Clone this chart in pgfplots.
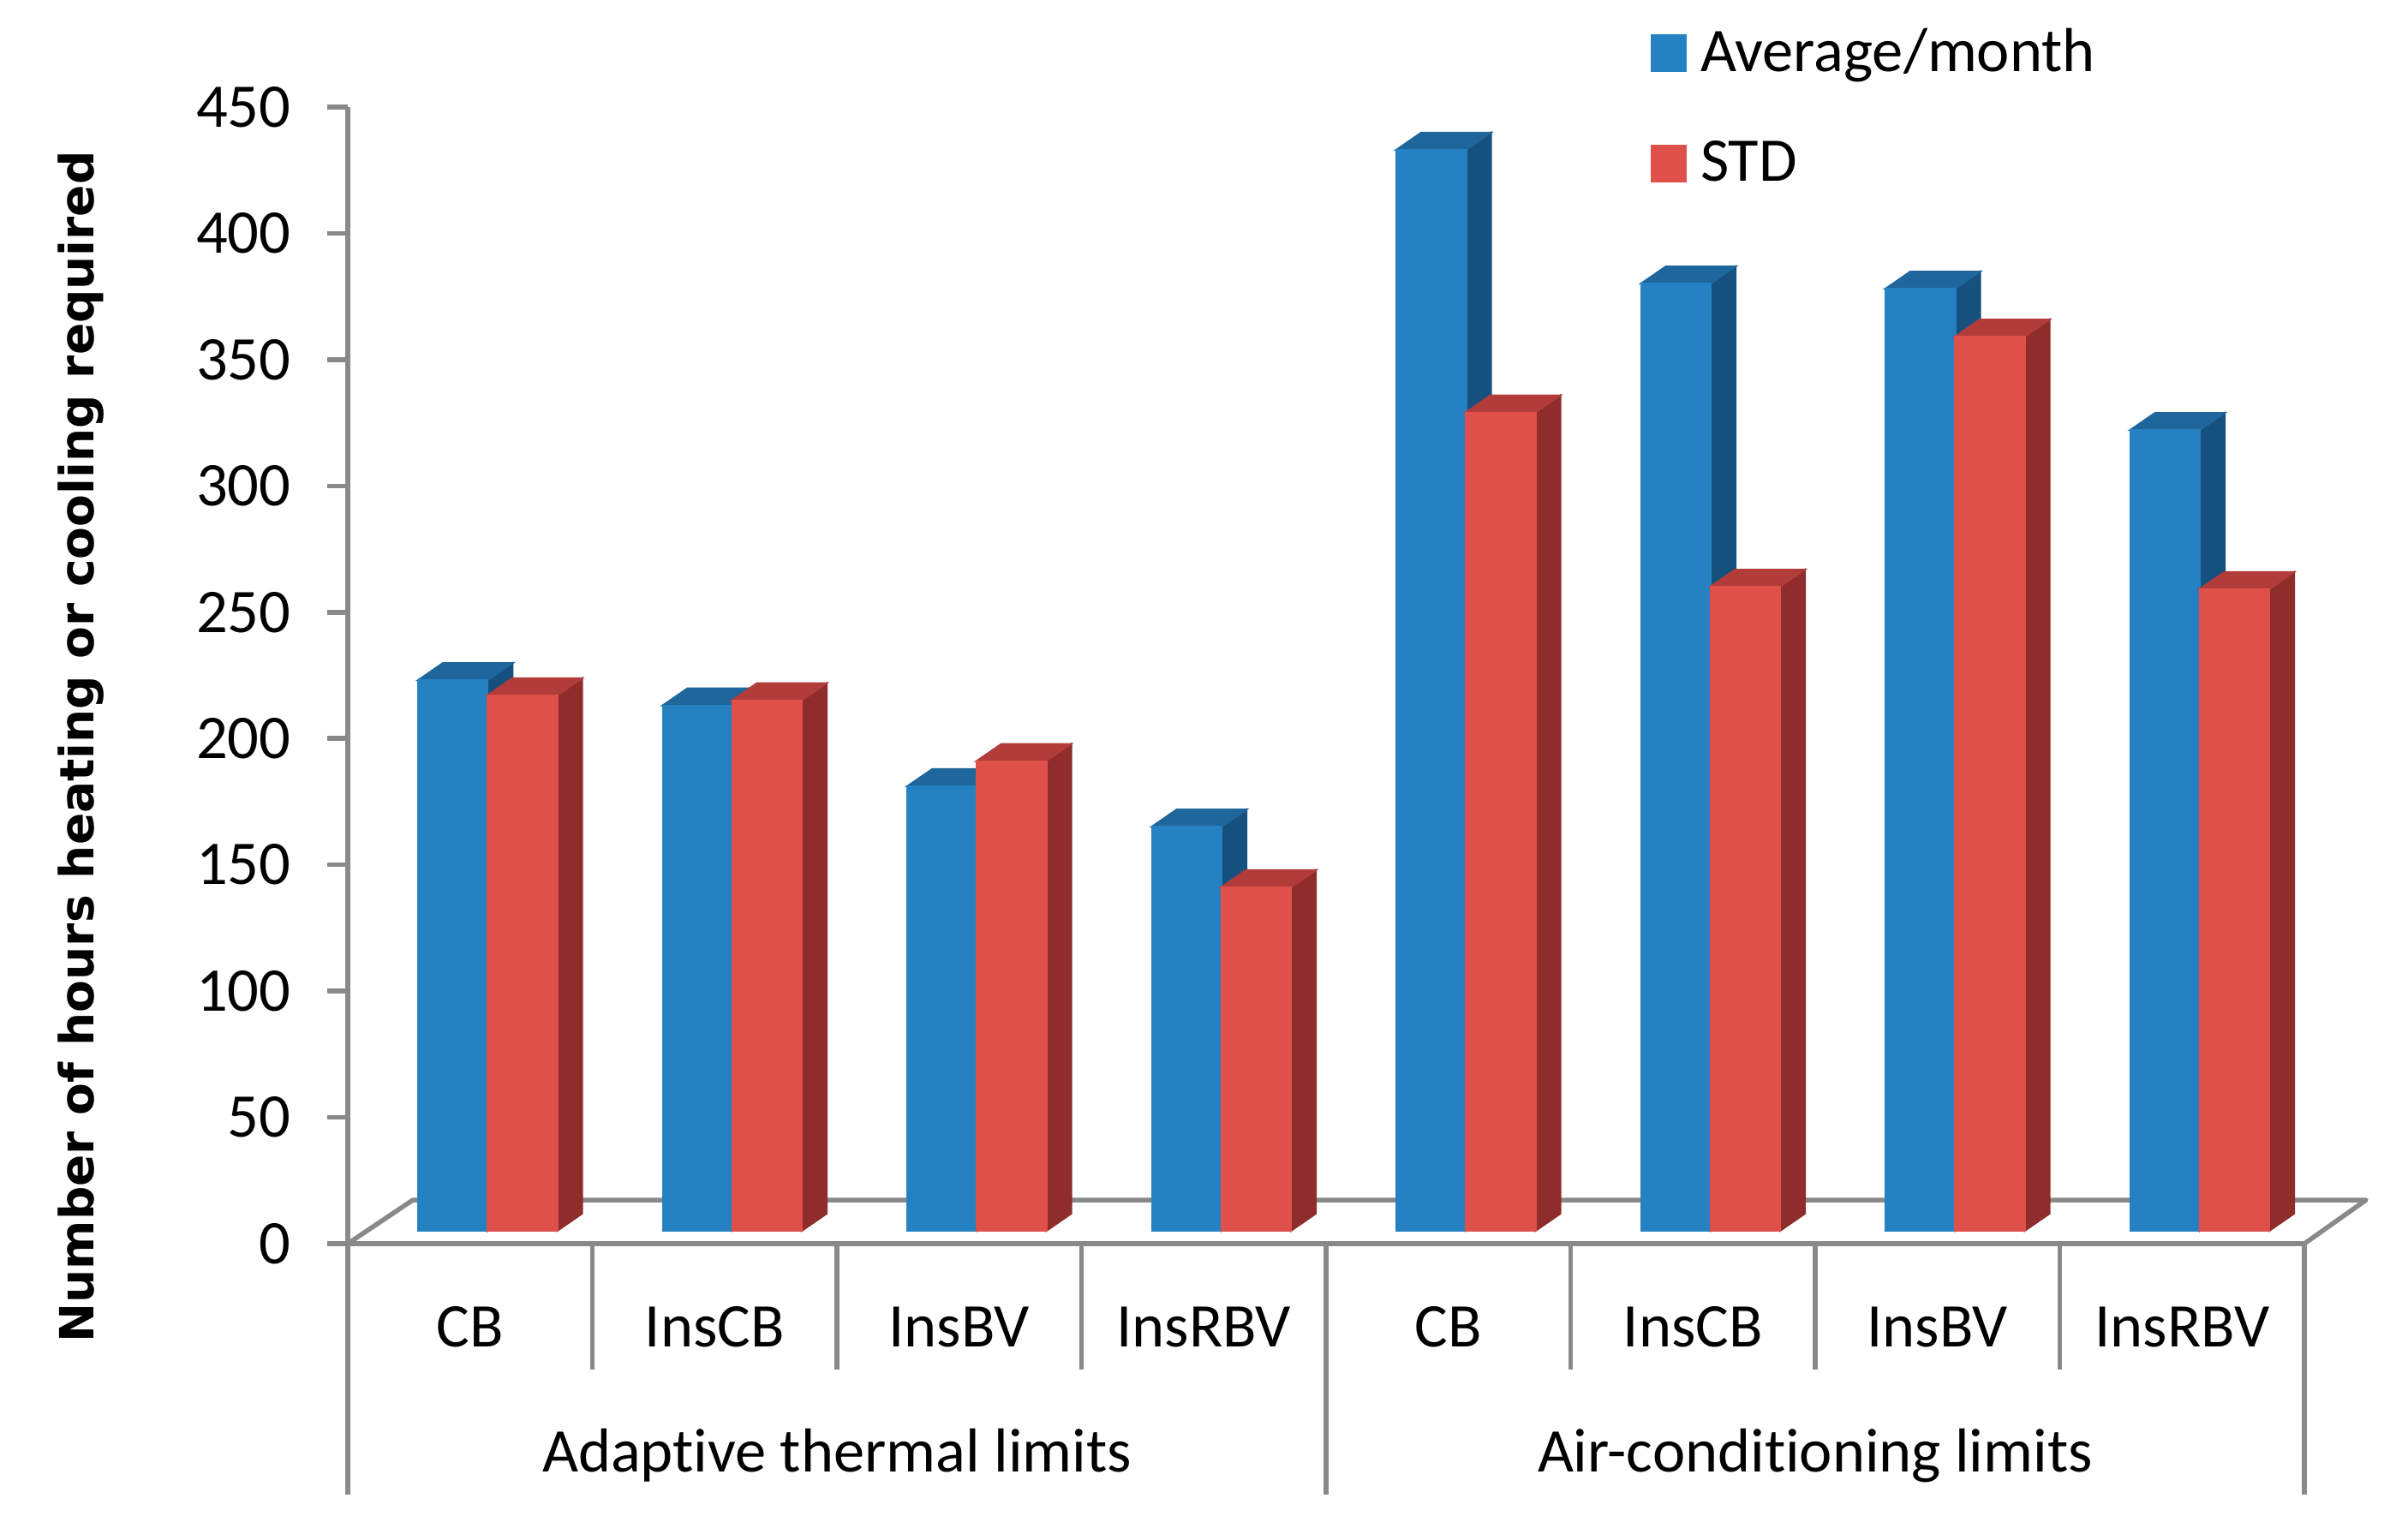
\documentclass[border=0pt]{standalone}
\usepackage{fontspec}
\setmainfont{Carlito}[Ligatures=NoCommon]
\newfontfamily\labelfont{DejaVu Sans}
\usepackage{pgfplots}
\usepackage{pgfplotstable}
\pgfplotsset{compat=1.18}
\definecolor{bfront}{RGB}{37,129,194}
\definecolor{btop}{RGB}{30,102,155}
\definecolor{bside}{RGB}{22,80,126}
\definecolor{rfront}{RGB}{224,80,74}
\definecolor{rtop}{RGB}{178,60,58}
\definecolor{rside}{RGB}{143,44,44}
\definecolor{axgray}{RGB}{137,137,137}
\pgfdeclareplotmark{none3d}{}
% 3D bar drawn at the data point: #1 = x offset of front face centre (pt), #2 front, #3 top, #4 side colour
\newcommand\barthreed[4]{%
  \pgfmathsetmacro\hh{3-\rawy*0.5898}%
  \pgfmathsetmacro\L{#1-8.15}%
  \pgfmathsetmacro\R{#1+8.15}%
  \pgfmathsetmacro\Rd{\R+5.8}%
  \pgfmathsetmacro\Ld{\L+5.8}%
  \pgfmathsetmacro\hd{\hh+4}%
  \fill[#4] (\R pt,\hh pt) -- (\Rd pt,\hd pt) -- (\Rd pt,7pt) -- (\R pt,3pt) -- cycle;
  \fill[#3] (\L pt,3pt) -- (\Ld pt,7pt) -- (\Rd pt,7pt) -- (\R pt,3pt) -- cycle;
  \fill[#2] (\L pt,\hh pt) rectangle (\R pt,3pt);
}
\pgfplotstableread{
x avg std
0 218 212
1 208 210
2 176 186
3 160 136
4 428 324
5 375 255
6 373 354
7 317 254
}\data
\begin{document}
\begin{tikzpicture}
\begin{axis}[
  x=57.1pt, y=0.5898pt,
  xmin=-0.5, xmax=7.5, ymin=0, ymax=450,
  clip=false,
  axis lines=left,
  axis line style={-, draw=axgray, line width=1.1pt},
  ytick={0,50,...,450},
  xtick={0,...,7},
  xticklabels={CB,InsCB,InsBV,InsRBV,CB,InsCB,InsBV,InsRBV},
  major tick length=4.8pt,
  tick align=outside,
  ytick style={draw=axgray, line width=1.1pt},
  xtick style={draw=none},
  /pgf/number format/assume math mode=true,
  tick label style={font=\fontsize{14.5}{17}\selectfont, text=black},
  yticklabel style={xshift=-5pt},
  xticklabel style={anchor=base, yshift=-19.3pt},
  legend style={draw=none, fill=none, at={(rel axis cs:0.6655,1.0774)}, anchor=north west,
    font=\fontsize{14.5}{17}\selectfont, row sep=10.6pt, inner sep=0pt,
    /tikz/every odd column/.append style={column sep=1.2pt}},
  legend cell align=left,
]
\coordinate (O) at (axis cs:-0.5,0);
% floor
\draw[axgray, line width=1.1pt, line join=round] (axis cs:-0.5,0) -- ([shift={(15.2pt,10.2pt)}]axis cs:-0.5,0)
  -- ([shift={(14.4pt,10.2pt)}]axis cs:7.5,0) -- (axis cs:7.5,0);
% Average/month
\addplot[ybar, bar width=16.3pt, bar shift=-4pt, fill=bfront, draw=none, yshift=3pt, forget plot] table[x=x,y=avg]{\data};
\addplot[scatter, only marks, mark=none3d, forget plot,
  visualization depends on={rawy \as \rawy},
  scatter/@pre marker code/.code={\barthreed{-4}{bfront}{btop}{bside}},
  scatter/@post marker code/.code={}] table[x=x,y=avg]{\data};
% STD
\addplot[ybar, bar width=16.3pt, bar shift=12.2pt, fill=rfront, draw=none, yshift=3pt, forget plot] table[x=x,y=std]{\data};
\addplot[scatter, only marks, mark=none3d, forget plot,
  visualization depends on={rawy \as \rawy},
  scatter/@pre marker code/.code={\barthreed{12.2}{rfront}{rtop}{rside}},
  scatter/@post marker code/.code={}] table[x=x,y=std]{\data};
% legend
\addlegendimage{legend image code/.code={\fill[bfront] (0pt,-4.2pt) rectangle (8pt,4.2pt);}}
\addlegendentry{Average/month}
\addlegendimage{legend image code/.code={\fill[rfront] (0pt,-4.2pt) rectangle (8pt,4.2pt);}}
\addlegendentry{STD}
% category separators
\pgfplotsinvokeforeach{0.5,1.5,2.5,4.5,5.5,6.5}{
  \draw[axgray, line width=1.1pt] (axis cs:#1,0) -- ([yshift=-29.4pt]axis cs:#1,0);
}
\pgfplotsinvokeforeach{-0.5,3.5,7.5}{
  \draw[axgray, line width=1.1pt] (axis cs:#1,0) -- ([yshift=-58.6pt]axis cs:#1,0);
}
\node[anchor=base, font=\fontsize{14.5}{17}\selectfont] at ([yshift=-53.2pt]axis cs:1.5,0) {Adaptive thermal limits};
\node[anchor=base, font=\fontsize{14.5}{17}\selectfont] at ([yshift=-53.2pt]axis cs:5.5,0) {Air-conditioning limits};
\node[rotate=90, anchor=base, font=\labelfont\bfseries\fontsize{11}{13}\selectfont] at (axis cs:-1.54,196.7) {Number of hours heating or cooling required};
\end{axis}
\pgfresetboundingbox
\path ([shift={(-81.2pt,-69pt)}]O) rectangle ([shift={(479.6pt,290.4pt)}]O);
\end{tikzpicture}
\end{document}
